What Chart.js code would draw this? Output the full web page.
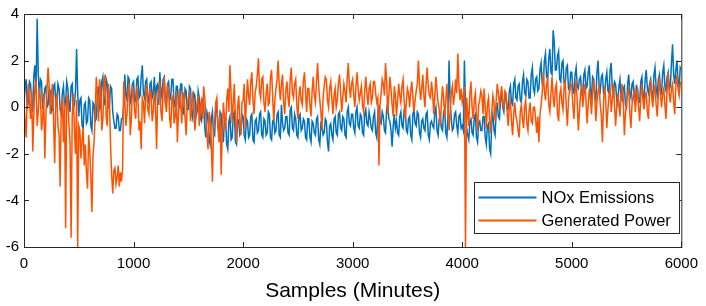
<!DOCTYPE html>
<html>
<head>
<meta charset="utf-8">
<script src="https://cdn.jsdelivr.net/npm/chart.js@4.4.1/dist/chart.umd.min.js"></script>
<style>
  html, body { margin: 0; padding: 0; background: #fff; }
  canvas { display: block; }
</style>
</head>
<body>
<canvas id="chart" width="706" height="306"></canvas>
<script>
// Samples every 10 minutes
const sampleStep = 10;

const noxEmissions = [
  0.1, 0.9, 1.2, -0.1, 0.3, 1.1, 1.0, 0.2, -0.2, 1.4, 1.8, 0.6, 3.8, 1.5, 0.4, 1.2, 1.1, -0.1, 0.2, 0.8,
  0.9, 0.0, 0.1, 0.8, 0.7, -0.2, -0.1, 0.9, 1.0, 0.2, 0.3, 1.0, 0.8, -0.1, -0.3, 0.6, 0.9, 0.0, 0.2, 1.1,
  0.8, 0.1, -0.2, 0.9, 1.0, -0.1, 0.1, 0.7, 2.5, 0.6, -0.4, 0.3, 0.4, -0.8, -0.9, 0.1, 0.2, -0.7, -0.6, 0.4,
  0.3, -0.8, -1.0, 0.2, 0.1, -0.6, -0.5, 0.5, 0.9, -0.1, 0.0, 1.1, 1.3, 0.1, 0.2, 1.2, 1.0, 0.0, 0.1, 0.9,
  0.8, -0.2, -0.6, -0.9, -0.9, -0.3, -0.4, -1.0, -1.0, -0.5, -0.5, 0.1, 1.4, 0.5, 0.3, 1.3, 1.2, 0.2, 0.4, 1.0,
  1.1, 0.2, 0.3, 1.2, 1.3, 0.4, 0.5, 1.3, 1.8, 0.6, 0.4, 1.1, 1.2, 0.3, 0.2, 1.0, 1.1, 0.4, 0.6, 1.3,
  0.2, 0.9, 1.0, 0.1, 1.5, 0.7, 0.4, 1.2, 1.3, 0.2, 0.1, 1.0, 1.1, 0.3, 0.5, 1.2, 1.2, 0.1, 0.0, 0.9,
  0.9, 0.1, 0.0, 1.0, 1.0, -0.2, -0.3, 0.8, 0.7, -0.1, -0.1, 0.9, 0.8, -0.3, -0.5, 0.6, 0.5, -0.4, -0.2, 0.7,
  0.4, -0.5, -0.6, 0.3, 0.2, -0.9, -1.3, -0.2, -0.4, -1.4, -1.6, -0.5, -0.2, -1.1, -1.2, -0.1, 0.1, -0.9, -1.0, -0.2,
  -0.3, -1.2, -1.5, -0.4, -0.5, -1.6, -1.8, -0.6, -0.4, -1.4, -1.3, -0.3, -0.2, -1.5, -1.6, -0.5, -0.6, -1.2, -1.1, -0.3,
  -0.4, -1.2, -1.4, -0.5, -0.6, -1.3, -1.2, -0.4, -0.3, -1.4, -1.5, -0.6, -0.5, -1.1, -1.0, -0.3, -0.2, -1.2, -1.3, -0.5,
  -0.6, -1.2, -1.1, -0.2, -0.3, -1.3, -1.4, -0.6, -0.5, -1.1, -1.0, -0.3, -0.2, -1.2, -1.3, 0.1, -0.7, -1.0, -0.9, -0.4,
  -0.4, -1.1, -1.2, -0.1, 0.0, -0.9, -1.0, -0.3, -0.5, -1.2, -1.3, -0.4, -0.3, -1.0, -0.9, -0.5, -0.6, -1.3, -1.4, -0.5,
  -0.5, -1.3, -1.5, -0.6, -0.7, -1.1, -1.2, -0.5, -0.4, -1.4, -1.6, -0.7, -0.8, -1.2, -1.1, -0.5, -0.6, -1.5, -1.9, -0.8,
  -0.7, -1.2, -1.4, -0.5, -0.4, -1.1, -1.2, -0.3, -0.2, -0.9, -1.0, -0.4, -0.5, -1.2, -1.3, -0.2, 0.0, -0.7, -0.8, -0.3,
  -0.3, -0.9, -1.1, -0.2, 0.0, -0.8, -0.9, -0.3, -0.4, -1.1, -1.2, -0.3, -0.1, -0.7, -0.8, -0.2, -0.5, -0.9, -1.0, -0.4,
  -0.2, -1.1, -1.3, -0.3, 0.1, -0.6, -0.7, -0.2, -0.4, -1.0, -1.1, -0.1, 0.2, -0.5, -0.6, -1.0, -1.7, -0.8, -0.3, -0.9,
  -0.6, -1.1, -1.2, -0.4, -0.2, -0.8, -0.9, -0.1, 0.0, -1.0, -1.1, -0.5, -0.4, -1.2, -1.4, -0.3, -0.1, -0.7, -0.8, -0.2,
  -0.3, -1.1, -1.3, -0.6, -0.5, -0.9, -1.0, -0.3, -0.2, -1.2, -1.4, -0.7, -0.6, -0.8, -0.9, -0.2, 0.0, -1.0, -1.2, -0.5,
  -0.4, -0.9, -1.0, -0.2, -0.1, -1.1, -1.3, -0.4, 2.0, 0.3, -0.5, -1.0, -0.9, -0.3, -0.2, -0.8, -1.1, -0.4, -0.3, -0.9,
  -0.8, -1.0, 2.0, 0.1, -0.9, -1.2, -1.4, -0.6, -0.5, -1.1, -1.2, -0.4, -0.3, -1.3, -1.5, -0.7, -0.6, -1.0, -1.0, -0.4,
  -0.4, -1.3, -1.6, -0.8, -0.7, -1.8, -2.0, -0.6, -0.3, -1.0, -1.2, -0.2, 0.2, -0.4, -0.5, 0.3, 0.7, 0.0, -0.2, 0.4,
  0.5, -0.1, -0.1, 0.7, 0.9, 0.2, 0.1, 1.0, 1.2, 0.4, 0.3, 0.9, 1.0, 0.3, 0.2, 1.1, 1.4, 0.6, 0.5, 1.2,
  1.1, 0.4, 0.4, 1.4, 1.7, 0.8, 0.6, 1.2, 1.3, 0.7, 0.8, 1.6, 1.9, 1.0, 1.0, 2.0, 2.3, 1.3, 1.2, 2.1,
  2.5, 1.5, 1.4, 3.3, 2.8, 1.6, 1.6, 2.2, 2.4, 1.2, 1.1, 1.9, 2.0, 1.0, 0.9, 1.7, 1.8, 0.8, 0.7, 1.5,
  1.5, 0.7, 0.6, 1.4, 1.7, 0.9, 0.8, 1.2, 1.3, 0.6, 0.5, 1.4, 1.6, 0.8, 0.9, 1.5, 1.8, 0.7, 0.4, 1.3,
  1.2, 0.5, 0.3, 1.5, 2.0, 0.9, 0.7, 1.3, 1.4, 0.6, 0.5, 1.2, 1.5, 0.7, 0.6, 1.6, 1.9, 0.8, 0.4, 1.1,
  1.0, 0.3, 0.1, 0.9, 1.2, 0.4, 0.3, 0.8, 0.9, 0.1, 0.0, 1.0, 1.4, 0.6, 0.4, 1.0, 1.1, 0.3, 0.2, 0.9,
  0.8, 0.2, 0.2, 1.1, 1.3, 0.5, 0.3, 1.2, 1.6, 0.8, 0.6, 1.0, 1.2, 0.5, 0.4, 1.4, 1.7, 0.8, 0.5, 1.2,
  1.4, 0.7, 0.6, 1.5, 1.8, 0.9, 0.7, 1.3, 1.5, 0.8, 0.9, 1.9, 2.7, 1.4, 1.0, 1.6, 2.0, 1.1, 0.8, 1.7,
  1.6
];

const generatedPower = [
  0.3, -0.6, -1.3, 0.5, 1.0, 0.2, -0.5, 0.7, -1.9, -0.3, 0.9, 1.1, -0.8, -0.2, 0.8, 0.4, -1.0, -0.5, 0.6, -2.2,
  -0.4, 0.8, 1.7, 0.9, -0.3, 0.6, 1.0, -0.6, -2.4, 0.2, 0.6, -0.8, -1.2, -3.4, 0.1, 0.3, -1.5, 0.2, -5.2, 0.5,
  0.4, -0.7, -1.5, -5.6, -0.4, 0.6, -1.0, -2.0, 0.3, -6.0, -0.8, -1.0, -2.2, -1.4, -0.9, -2.5, -1.6, -2.8, -3.5, -1.2,
  -1.8, -3.0, -4.5, -2.0, -1.5, -0.2, 1.3, 0.5, -0.6, 1.2, 0.8, -1.0, -0.5, 0.9, 1.4, -0.4, -0.8, 1.0, 0.3, -1.6,
  -2.9, -3.7, -2.7, -2.6, -3.3, -3.0, -2.5, -3.4, -2.8, -3.2, -2.6, 1.1, 0.4, -0.8, -0.3, 0.7, 0.9, -1.2, -0.5, 0.8,
  0.6, -0.2, -0.5, 0.9, 0.4, -1.0, -0.6, -1.8, 0.4, 0.2, -0.7, 0.5, 1.0, -0.1, -0.3, 0.8, 0.5, -0.6, -0.2, 0.7,
  0.1, -1.8, 0.3, 0.6, 1.1, -0.2, -0.6, 0.7, 1.3, 0.2, -0.2, 0.9, 0.8, -0.5, -0.9, 0.4, 0.5, -0.7, -0.4, 0.6,
  -1.5, -0.3, 0.8, 0.2, -0.7, 0.5, 0.6, -0.4, -1.2, 0.1, 0.4, 0.6, -0.6, -0.1, 0.5, 0.2, -1.0, -0.3, 0.2, 0.5,
  -0.8, 0.1, 0.3, -0.5, 0.9, 0.4, -0.4, -1.2, -1.8, -0.2, -0.5, -1.6, -3.2, -0.9, -0.6, 0.2, 0.4, -0.8, -1.5, -0.3,
  -2.9, -1.0, 0.2, -0.4, -1.0, 0.3, 0.8, -0.2, 1.8, 0.6, -0.7, 0.2, 1.0, -0.5, -1.5, 0.0, 0.5, -0.6, -1.2, 0.2,
  0.3, 1.0, -0.9, 0.2, 1.2, 0.5, 0.1, 1.1, 1.5, 0.3, -0.3, 0.6, 0.9, 1.4, 2.1, 0.7, 0.4, 1.2, 1.3, 0.2,
  -0.2, 0.6, 1.0, 0.1, 0.2, 1.3, 1.6, 0.4, -0.6, 0.3, 0.8, 1.2, 2.0, 0.9, 0.3, 1.0, 1.4, 0.2, -0.3, 0.7,
  1.1, 0.4, 0.0, 1.2, 1.7, 0.6, 0.4, 1.0, 1.2, 0.1, -0.5, 0.5, 0.9, 0.3, 0.1, 1.1, 1.5, 0.6, -0.2, 0.8,
  0.8, 0.1, -0.4, 0.7, 1.3, 0.5, 0.2, 1.1, 1.9, 0.9, 0.3, -0.2, -1.0, 0.4, 0.9, 1.3, 1.2, 0.3, 0.0, 0.8,
  1.1, 0.4, -0.3, 0.5, 0.8, 0.0, 0.3, 1.0, 1.4, 0.6, -0.2, 0.4, 1.0, 0.7, 0.2, 1.2, 1.9, 0.9, 0.4, 1.0,
  1.2, 0.5, 0.0, 0.9, 1.5, 0.8, 0.3, 0.6, 0.9, 0.1, -0.2, 0.7, 1.3, 0.6, 0.1, 0.8, 1.0, 0.2, 0.4, 1.1,
  1.1, 0.6, 0.2, 0.4, -2.5, 0.1, 0.6, 1.2, 1.0, 0.5, 1.9, 1.1, -0.3, 0.5, 1.3, 0.8, 0.1, -0.4, 0.9, 0.5,
  -0.4, 0.3, 1.0, 0.5, 0.2, 0.9, 1.2, 0.3, -0.5, 0.2, 0.8, 0.6, 0.0, 0.7, 1.1, 0.4, -0.2, 0.3, 0.7, 1.0,
  2.0, 1.0, 0.3, 0.8, 1.4, 0.5, 0.0, 1.0, 1.7, 0.9, 0.5, 0.4, 1.1, 0.6, -0.3, 0.5, 1.3, 0.7, 0.2, -0.1,
  -0.8, 0.2, 0.9, 0.4, -0.4, 0.3, 1.0, 0.1, -1.0, -0.2, 0.6, 0.9, 0.1, 0.5, 1.2, 0.6, 2.3, 1.0, 0.3, 0.8,
  0.2, 0.5, 0.9, -6.0, 0.4, -0.2, -0.8, 0.6, 1.1, 0.0, -0.5, 0.3, 0.6, -0.4, -1.0, 0.1, 0.3, 0.7, 0.5, -0.3,
  0.8, 0.0, -0.9, 0.1, 0.4, -0.5, -1.1, -0.2, 0.5, 0.2, -0.6, 0.3, 1.0, 0.6, 0.1, 0.5, 0.9, 0.2, 0.0, 0.7,
  0.6, -0.2, -0.8, 0.0, 0.3, -0.6, -1.2, -0.3, 0.2, -0.4, -0.6, -1.0, -1.3, -0.2, 0.1, -0.5, -0.9, 0.0, 0.3, -0.7,
  -1.0, -0.2, 0.2, -0.6, -0.7, 0.0, 0.0, -0.5, -1.1, -0.4, -1.5, -0.3, 0.1, 0.6, 1.5, 0.7, 0.3, 1.0, 1.2, 0.1,
  -0.2, 0.6, 1.3, 0.4, 0.0, 0.8, 1.0, -0.3, -0.6, 0.5, 0.8, 0.2, -0.1, 0.9, 1.1, 0.0, -0.8, 0.3, 0.7, 1.0,
  0.9, 0.1, -0.5, 0.6, 1.2, 0.2, -1.0, -0.2, 0.6, 0.9, 0.0, 0.5, 1.0, 0.3, -0.7, 0.1, 0.8, 0.4, -0.3, 0.6,
  1.2, 0.4, -0.6, 0.2, 0.7, 0.9, 0.1, -0.4, -1.5, 0.2, 0.9, 0.3, -0.9, -0.1, 0.5, 0.8, -0.2, 0.3, 1.0, 0.1,
  -0.8, 0.0, 0.6, 0.2, -0.4, 0.5, 1.0, 0.3, -1.2, -0.3, 0.3, 0.6, 0.8, -0.2, -0.9, 0.1, 0.5, 0.7, -0.2, 0.4,
  0.7, 0.0, -0.6, 0.4, 1.0, 0.3, -0.1, 0.5, 0.6, -0.2, -0.5, 0.6, 1.2, 0.4, 0.0, 0.7, 0.9, 0.1, -0.4, 0.5,
  1.3, 0.5, 0.0, 0.6, 0.8, 0.1, -0.5, 0.7, 1.5, 0.6, 0.2, 0.8, 1.0, 0.2, -0.3, 0.9, 1.4, 0.8, 0.5, 1.0,
  1.1
];

const xTicks = [0, 1000, 2000, 3000, 4000, 5000, 6000];
const yTicks = [-6, -4, -2, 0, 2, 4];

const colors = {
  nox: "#0072BD",
  power: "#FF5200",
  axis: "#262626",
  text: "#000000",
};

const fontFamily = "'Liberation Sans', Arial, sans-serif";

const toPoints = (values) =>
  values.map((v, i) => ({ x: i * sampleStep, y: v }));

// Box around the axes, inward ticks, and legend inside the plot
const matlabAxes = {
  id: "matlabAxes",
  afterDraw(chart) {
    const { ctx, chartArea: a, scales } = chart;
    const tick = 5;
    ctx.save();
    ctx.strokeStyle = colors.axis;
    ctx.lineWidth = 1;
    ctx.strokeRect(a.left + 0.5, a.top + 0.5, a.right - a.left, a.bottom - a.top);
    ctx.beginPath();
    xTicks.forEach((t) => {
      const px = Math.round(scales.x.getPixelForValue(t)) + 0.5;
      ctx.moveTo(px, a.bottom);
      ctx.lineTo(px, a.bottom - tick);
      ctx.moveTo(px, a.top);
      ctx.lineTo(px, a.top + tick);
    });
    yTicks.forEach((t) => {
      const py = Math.round(scales.y.getPixelForValue(t)) + 0.5;
      ctx.moveTo(a.left, py);
      ctx.lineTo(a.left + tick, py);
      ctx.moveTo(a.right, py);
      ctx.lineTo(a.right - tick, py);
    });
    ctx.stroke();

    // legend
    const bx = 474.5, by = 182.5, bw = 205, bh = 51;
    ctx.fillStyle = "#fff";
    ctx.fillRect(bx, by, bw, bh);
    ctx.strokeStyle = colors.axis;
    ctx.strokeRect(bx, by, bw, bh);
    ctx.font = "16.5px " + fontFamily;
    ctx.textBaseline = "middle";
    chart.data.datasets.forEach((ds, i) => {
      const y = by + 15 + i * 23;
      ctx.strokeStyle = ds.borderColor;
      ctx.lineWidth = 2;
      ctx.beginPath();
      ctx.moveTo(bx + 4, y);
      ctx.lineTo(bx + 62, y);
      ctx.stroke();
      ctx.fillStyle = colors.text;
      ctx.fillText(ds.label, bx + 67, y + 1);
    });
    ctx.restore();
  },
};

new Chart(document.getElementById("chart"), {
  type: "line",
  data: {
    datasets: [
      {
        label: "NOx Emissions",
        data: toPoints(noxEmissions),
        borderColor: colors.nox,
        backgroundColor: colors.nox,
        borderWidth: 1.5,
        pointRadius: 0,
        tension: 0,
        order: 2,
      },
      {
        label: "Generated Power",
        data: toPoints(generatedPower),
        borderColor: colors.power,
        backgroundColor: colors.power,
        borderWidth: 1.5,
        pointRadius: 0,
        tension: 0,
        order: 1,
      },
    ],
  },
  options: {
    responsive: false,
    animation: false,
    events: [],
    layout: { padding: { top: 7, right: 20, left: 0, bottom: 2 } },
    plugins: {
      legend: { display: false },
      tooltip: { enabled: false },
    },
    scales: {
      x: {
        type: "linear",
        min: 0,
        max: 6000,
        afterBuildTicks: (s) => { s.ticks = xTicks.map((v) => ({ value: v })); },
        afterFit: (s) => { s.height = 57; },
        grid: { display: false, drawTicks: false },
        border: { display: false },
        ticks: {
          color: colors.text,
          padding: 8,
          maxRotation: 0,
          callback: (v) => String(v),
          font: { family: fontFamily, size: 15 },
        },
        title: {
          display: true,
          text: "Samples (Minutes)",
          color: colors.text,
          padding: 0,
          font: { family: fontFamily, size: 21 },
        },
      },
      y: {
        type: "linear",
        min: -6,
        max: 4,
        afterBuildTicks: (s) => { s.ticks = yTicks.map((v) => ({ value: v })); },
        afterFit: (s) => { s.width = 24; },
        grid: { display: false, drawTicks: false },
        border: { display: false },
        ticks: {
          color: colors.text,
          padding: 5,
          callback: (v) => String(v),
          font: { family: fontFamily, size: 15 },
        },
      },
    },
  },
  plugins: [matlabAxes],
});
</script>
</body>
</html>
